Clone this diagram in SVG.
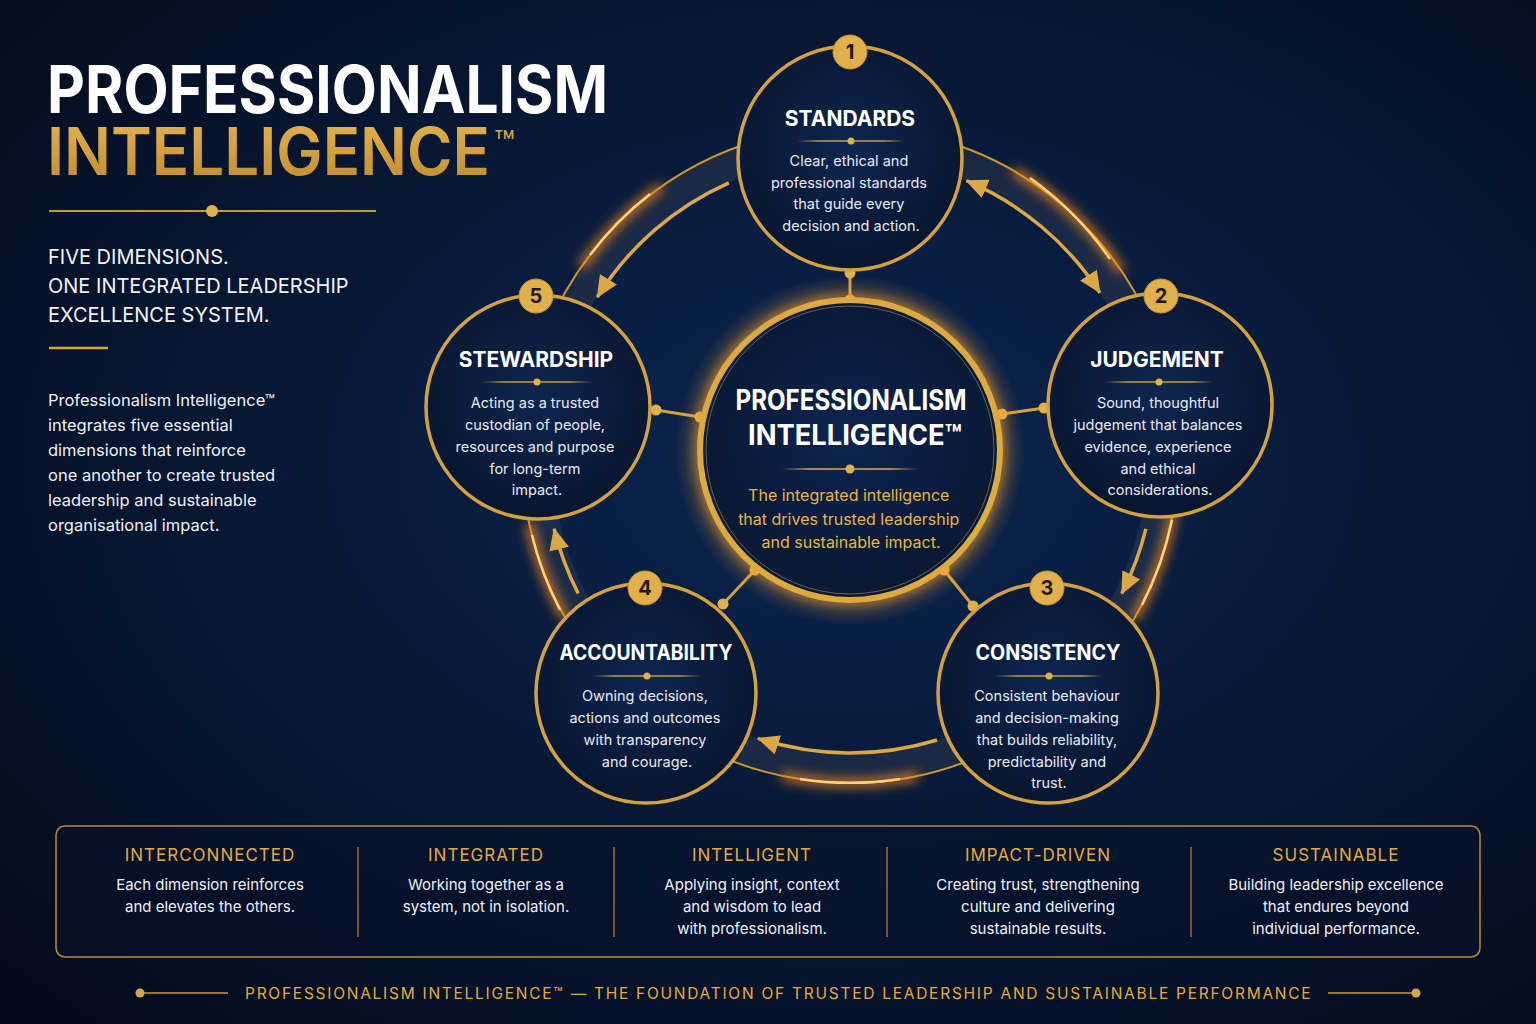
<svg xmlns="http://www.w3.org/2000/svg" width="1536" height="1024" viewBox="0 0 1536 1024">
<defs>
  <radialGradient id="bg" cx="55%" cy="45%" r="75%">
    <stop offset="0" stop-color="#0c2550"/>
    <stop offset="0.55" stop-color="#071733"/>
    <stop offset="1" stop-color="#040b1c"/>
  </radialGradient>
  <radialGradient id="nodeFill" cx="50%" cy="45%" r="55%">
    <stop offset="0" stop-color="#0f2650"/>
    <stop offset="1" stop-color="#08162f"/>
  </radialGradient>
  <radialGradient id="centerFill" cx="50%" cy="45%" r="55%">
    <stop offset="0" stop-color="#0e2450"/>
    <stop offset="0.8" stop-color="#091a38"/>
    <stop offset="1" stop-color="#0c1a30"/>
  </radialGradient>
  <radialGradient id="halo" cx="50%" cy="50%" r="50%">
    <stop offset="0.75" stop-color="#f0a030" stop-opacity="0.0"/>
    <stop offset="0.86" stop-color="#f0a030" stop-opacity="0.3"/>
    <stop offset="1" stop-color="#f0a030" stop-opacity="0"/>
  </radialGradient>
  <linearGradient id="goldText" x1="0" y1="0" x2="0" y2="1">
    <stop offset="0" stop-color="#e6b64e"/>
    <stop offset="1" stop-color="#c08a2c"/>
  </linearGradient>
  <linearGradient id="divFade" x1="0" y1="0" x2="1" y2="0">
    <stop offset="0" stop-color="#d4a23c" stop-opacity="0"/>
    <stop offset="0.2" stop-color="#d4a23c"/>
    <stop offset="0.8" stop-color="#d4a23c"/>
    <stop offset="1" stop-color="#d4a23c" stop-opacity="0"/>
  </linearGradient>
  <filter id="blur6" x="-50%" y="-50%" width="200%" height="200%"><feGaussianBlur stdDeviation="6"/></filter>
  <marker id="ah" markerUnits="userSpaceOnUse" markerWidth="24" markerHeight="20" refX="21" refY="10" orient="auto-start-reverse">
    <path d="M0,0 L22,10 L0,20 z" fill="#dba843"/>
  </marker>
  <style>
    .sans { font-family: Inter, "Noto Sans", "Liberation Sans", sans-serif; }
    .ntitle { font-family: Inter, "Noto Sans", "Liberation Sans", sans-serif; font-weight: 700; font-size: 21px; fill: #ffffff; text-anchor: middle; }
    .ndesc { font-family: Inter, "Noto Sans", "Liberation Sans", sans-serif; font-size: 14.5px; fill: #e8e9f0; text-anchor: middle; }
    .ncirc { fill: url(#nodeFill); stroke: #d4a23c; stroke-width: 3.5; }
    .badge { fill: #e0b04a; stroke: #c4912e; stroke-width: 1; }
    .bnum { font-family: Inter, "Noto Sans", "Liberation Sans", sans-serif; font-weight: 700; font-size: 20px; fill: #1d1a14; text-anchor: middle; }
    .div { fill: url(#divFade); }
    .dot { fill: #e0b04a; }
    .spoke { stroke: #d4a23c; stroke-width: 3; }
    .arrow { fill: none; stroke: #dba843; stroke-width: 3.5; }
    .bhead { font-family: Inter, "Noto Sans", "Liberation Sans", sans-serif; font-size: 17px; fill: #e3ab3c; text-anchor: middle; letter-spacing: 1px; }
    .bbody { font-family: Inter, "Noto Sans", "Liberation Sans", sans-serif; font-size: 15px; fill: #eef0f5; text-anchor: middle; }
    .vdiv { stroke: #b88a34; stroke-width: 1.2; }
  </style>
</defs>

<rect width="1536" height="1024" fill="url(#bg)"/>

<!-- Left heading -->
<g id="title">
  <text class="sans" x="47" y="113" font-size="66" font-weight="700" fill="#ffffff" textLength="561" lengthAdjust="spacingAndGlyphs">PROFESSIONALISM</text>
  <text class="sans" x="47" y="175" font-size="66" font-weight="600" fill="url(#goldText)" textLength="443" lengthAdjust="spacingAndGlyphs">INTELLIGENCE</text>
  <text class="sans" x="494" y="155" font-size="34" fill="#d6a545">™</text>
  <line x1="49" y1="211" x2="376" y2="211" stroke="#c9973a" stroke-width="2"/>
  <circle cx="212" cy="211" r="6" fill="#e0b04a"/>
  <text class="sans" font-size="20" fill="#f2f3f7">
    <tspan x="48" y="264">FIVE DIMENSIONS.</tspan>
    <tspan x="48" y="293">ONE INTEGRATED LEADERSHIP</tspan>
    <tspan x="48" y="322">EXCELLENCE SYSTEM.</tspan>
  </text>
  <line x1="49" y1="348" x2="108" y2="348" stroke="#d9a23a" stroke-width="2.5"/>
  <text class="sans" font-size="16.5" fill="#eef0f5">
    <tspan x="48" y="406">Professionalism Intelligence™</tspan>
    <tspan x="48" y="431">integrates five essential</tspan>
    <tspan x="48" y="456">dimensions that reinforce</tspan>
    <tspan x="48" y="481">one another to create trusted</tspan>
    <tspan x="48" y="506">leadership and sustainable</tspan>
    <tspan x="48" y="531">organisational impact.</tspan>
  </text>
</g>

<!-- Outer ring -->
<g id="ring">
  <circle cx="850" cy="455" r="313" fill="none" stroke="#9a8a80" stroke-opacity="0.13" stroke-width="30"/>
  <circle cx="850" cy="455" r="328" fill="none" stroke="#c8962e" stroke-width="2"/>
  <g fill="none" stroke="#ff8c1a" stroke-width="7" filter="url(#blur6)">
    <path d="M1014,170.9 A328,328 0 0 1 1121.9,271.6"/>
    <path d="M1173,511.9 A328,328 0 0 1 1134.1,619"/>
    <path d="M918.2,775.8 A328,328 0 0 1 781.8,775.8"/>
    <path d="M565.9,619 A328,328 0 0 1 529.2,523.2"/>
    <path d="M581.3,266.9 A328,328 0 0 1 661.9,186.3"/>
  </g>
  <g fill="none" stroke="#ffd27a" stroke-width="2.5">
    <path d="M1030,178 A328,328 0 0 1 1110,259"/>
    <path d="M1172,520 A328,328 0 0 1 1142,605"/>
    <path d="M900,779 A328,328 0 0 1 800,779"/>
    <path d="M560,610 A328,328 0 0 1 532,535"/>
    <path d="M590,255 A328,328 0 0 1 650,194"/>
  </g>
</g>

<!-- Connectors -->
<g id="connectors">
  <path class="arrow" d="M728.8,182.8 A298,298 0 0 0 597.3,297.1" marker-end="url(#ah)"/>
  <path class="arrow" d="M966.4,180.7 A298,298 0 0 1 1099.9,292.7" marker-start="url(#ah)" marker-end="url(#ah)"/>
  <path class="arrow" d="M1145.9,528.8 A305,305 0 0 1 1121.8,593.5" marker-end="url(#ah)"/>
  <path class="arrow" d="M937.1,740 A298,298 0 0 1 757.9,738.4" marker-end="url(#ah)"/>
  <path class="arrow" d="M578.2,593.5 A305,305 0 0 1 554.1,528.8" marker-end="url(#ah)"/>

  <line class="spoke" x1="850" y1="273" x2="850" y2="300"/>
  <line class="spoke" x1="1002" y1="414" x2="1044" y2="408"/>
  <line class="spoke" x1="656" y1="410" x2="700" y2="417"/>
  <line class="spoke" x1="944" y1="570" x2="973" y2="606"/>
  <line class="spoke" x1="755" y1="570" x2="723" y2="604"/>
  <circle class="dot" cx="850" cy="273" r="5.5"/><circle class="dot" cx="850" cy="300" r="5.5"/>
  <circle class="dot" cx="1002" cy="414" r="5.5"/><circle class="dot" cx="1044" cy="408" r="5.5"/>
  <circle class="dot" cx="656" cy="410" r="5.5"/><circle class="dot" cx="700" cy="417" r="5.5"/>
  <circle class="dot" cx="944" cy="570" r="5.5"/><circle class="dot" cx="973" cy="606" r="5.5"/>
  <circle class="dot" cx="755" cy="570" r="5.5"/><circle class="dot" cx="723" cy="604" r="5.5"/>
</g>

<!-- Center node -->
<g id="node-center">
  <circle cx="850" cy="450" r="175" fill="url(#halo)"/>
  <circle cx="850" cy="450" r="150" fill="none" stroke="#ffa028" stroke-width="8" filter="url(#blur6)" opacity="0.7"/>
  <circle cx="850" cy="450" r="150" fill="url(#centerFill)" stroke="#dcaa3e" stroke-width="6"/>
  <circle cx="850" cy="450" r="144" fill="none" stroke="#f5d07a" stroke-width="1" opacity="0.4"/>
  <text class="sans" x="851" y="410" font-size="28" font-weight="700" fill="#ffffff" text-anchor="middle" textLength="231" lengthAdjust="spacingAndGlyphs">PROFESSIONALISM</text>
  <text class="sans" x="855" y="445" font-size="28" font-weight="700" fill="#ffffff" text-anchor="middle" textLength="214" lengthAdjust="spacingAndGlyphs">INTELLIGENCE™</text>
  <rect class="div" x="782" y="468.2" width="136" height="1.6"/>
  <circle cx="850" cy="469" r="4.5" class="dot"/>
  <text class="sans" font-size="16" fill="#e8b640" text-anchor="middle">
    <tspan x="851" y="501">The integrated intelligence</tspan>
    <tspan x="851" y="525">that drives trusted leadership</tspan>
    <tspan x="851" y="548">and sustainable impact.</tspan>
  </text>
</g>

<!-- Node 1 -->
<g id="node-standards">
  <circle class="ncirc" cx="850" cy="158" r="112"/>
  <circle class="badge" cx="850" cy="52" r="17"/>
  <text class="bnum" x="850" y="59">1</text>
  <text class="ntitle" x="850" y="126">STANDARDS</text>
  <rect class="div" x="797" y="140.3" width="108" height="1.4"/>
  <circle class="dot" cx="851" cy="141" r="3.5"/>
  <text class="ndesc">
    <tspan x="851" y="166">Clear, ethical and</tspan>
    <tspan x="851" y="188">professional standards</tspan>
    <tspan x="851" y="209">that guide every</tspan>
    <tspan x="851" y="231">decision and action.</tspan>
  </text>
</g>

<!-- Node 2 -->
<g id="node-judgement">
  <circle class="ncirc" cx="1160" cy="405" r="112"/>
  <circle class="badge" cx="1161" cy="296" r="17"/>
  <text class="bnum" x="1161" y="303">2</text>
  <text class="ntitle" x="1157" y="367">JUDGEMENT</text>
  <rect class="div" x="1105" y="381.3" width="108" height="1.4"/>
  <circle class="dot" cx="1159" cy="382" r="3.5"/>
  <text class="ndesc">
    <tspan x="1160" y="408">Sound, thoughtful</tspan>
    <tspan x="1160" y="430">judgement that balances</tspan>
    <tspan x="1160" y="452">evidence, experience</tspan>
    <tspan x="1160" y="474">and ethical</tspan>
    <tspan x="1160" y="495">considerations.</tspan>
  </text>
</g>

<!-- Node 3 -->
<g id="node-consistency">
  <circle class="ncirc" cx="1048" cy="693" r="110"/>
  <circle class="badge" cx="1047" cy="588" r="17"/>
  <text class="bnum" x="1047" y="595">3</text>
  <text class="ntitle" x="1048" y="660" textLength="145" lengthAdjust="spacingAndGlyphs">CONSISTENCY</text>
  <rect class="div" x="995" y="675.3" width="108" height="1.4"/>
  <circle class="dot" cx="1049" cy="676" r="3.5"/>
  <text class="ndesc">
    <tspan x="1049" y="701">Consistent behaviour</tspan>
    <tspan x="1049" y="723">and decision-making</tspan>
    <tspan x="1049" y="745">that builds reliability,</tspan>
    <tspan x="1049" y="767">predictability and</tspan>
    <tspan x="1049" y="788">trust.</tspan>
  </text>
</g>

<!-- Node 4 -->
<g id="node-accountability">
  <circle class="ncirc" cx="646" cy="693" r="110"/>
  <circle class="badge" cx="645" cy="588" r="17"/>
  <text class="bnum" x="645" y="595">4</text>
  <text class="ntitle" x="646" y="660" textLength="173" lengthAdjust="spacingAndGlyphs">ACCOUNTABILITY</text>
  <rect class="div" x="593" y="675.3" width="108" height="1.4"/>
  <circle class="dot" cx="647" cy="676" r="3.5"/>
  <text class="ndesc">
    <tspan x="647" y="701">Owning decisions,</tspan>
    <tspan x="647" y="723">actions and outcomes</tspan>
    <tspan x="647" y="745">with transparency</tspan>
    <tspan x="647" y="767">and courage.</tspan>
  </text>
</g>

<!-- Node 5 -->
<g id="node-stewardship">
  <circle class="ncirc" cx="538" cy="407" r="112"/>
  <circle class="badge" cx="536" cy="296" r="17"/>
  <text class="bnum" x="536" y="303">5</text>
  <text class="ntitle" x="536" y="367">STEWARDSHIP</text>
  <rect class="div" x="482" y="381.3" width="110" height="1.4"/>
  <circle class="dot" cx="537" cy="382" r="3.5"/>
  <text class="ndesc">
    <tspan x="537" y="408">Acting as a trusted</tspan>
    <tspan x="537" y="430">custodian of people,</tspan>
    <tspan x="537" y="452">resources and purpose</tspan>
    <tspan x="537" y="474">for long-term</tspan>
    <tspan x="537" y="495">impact.</tspan>
  </text>
</g>

<!-- Bottom band -->
<g id="principles">
  <rect x="56" y="826" width="1424" height="131" rx="9" fill="#06122a" fill-opacity="0.6" stroke="#b88a34" stroke-width="1.5"/>
  <line class="vdiv" x1="358" y1="847" x2="358" y2="937"/>
  <line class="vdiv" x1="614" y1="847" x2="614" y2="937"/>
  <line class="vdiv" x1="887" y1="847" x2="887" y2="937"/>
  <line class="vdiv" x1="1191" y1="847" x2="1191" y2="937"/>
  <text class="bhead" x="210" y="861">INTERCONNECTED</text>
  <text class="bbody"><tspan x="210" y="890">Each dimension reinforces</tspan><tspan x="210" y="912">and elevates the others.</tspan></text>
  <text class="bhead" x="486" y="861">INTEGRATED</text>
  <text class="bbody"><tspan x="486" y="890">Working together as a</tspan><tspan x="486" y="912">system, not in isolation.</tspan></text>
  <text class="bhead" x="752" y="861">INTELLIGENT</text>
  <text class="bbody"><tspan x="752" y="890">Applying insight, context</tspan><tspan x="752" y="912">and wisdom to lead</tspan><tspan x="752" y="934">with professionalism.</tspan></text>
  <text class="bhead" x="1038" y="861">IMPACT-DRIVEN</text>
  <text class="bbody"><tspan x="1038" y="890">Creating trust, strengthening</tspan><tspan x="1038" y="912">culture and delivering</tspan><tspan x="1038" y="934">sustainable results.</tspan></text>
  <text class="bhead" x="1336" y="861">SUSTAINABLE</text>
  <text class="bbody"><tspan x="1336" y="890">Building leadership excellence</tspan><tspan x="1336" y="912">that endures beyond</tspan><tspan x="1336" y="934">individual performance.</tspan></text>
</g>

<!-- Footer -->
<g id="footer">
  <line x1="140" y1="993" x2="228" y2="993" stroke="#c9973a" stroke-width="1.5"/>
  <circle cx="140" cy="993" r="4.5" fill="#d9a846"/>
  <line x1="1328" y1="993" x2="1416" y2="993" stroke="#c9973a" stroke-width="1.5"/>
  <circle cx="1416" cy="993" r="4.5" fill="#d9a846"/>
  <text class="sans" x="779" y="999" font-size="15.5" fill="#e3ab3c" text-anchor="middle" letter-spacing="2.4" textLength="1068" lengthAdjust="spacing">PROFESSIONALISM INTELLIGENCE™ — THE FOUNDATION OF TRUSTED LEADERSHIP AND SUSTAINABLE PERFORMANCE</text>
</g>
</svg>
